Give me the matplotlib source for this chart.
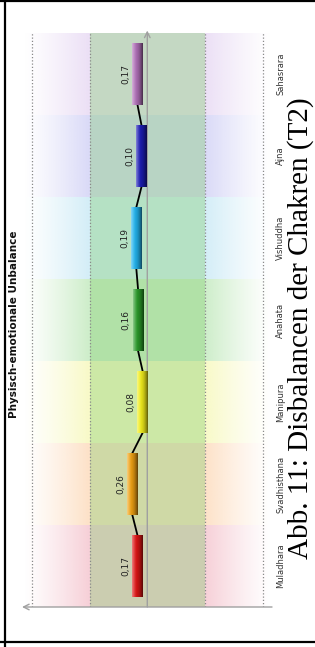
# Chakra imbalance chart (rotated page layout)
import numpy as np
import matplotlib
matplotlib.use("Agg")
import matplotlib.pyplot as plt
from matplotlib.lines import Line2D

# Data
chakras = ["Muladhara", "Svadhisthana", "Manipura", "Anahata", "Vishuddha", "Ajna", "Sahasrara"]
values = [0.17, 0.26, 0.08, 0.16, 0.19, 0.10, 0.17]
value_labels = ["0,17", "0,26", "0,08", "0,16", "0,19", "0,10", "0,17"]
bar_colors = ["#dd1414", "#f0a214", "#f2ee1c", "#2a9a2a", "#22b4ee", "#1c1cb4", "#b070b8"]
band_colors = ["#eea0b0", "#fcc490", "#f2f490", "#9cdc94", "#a8dcf0", "#b4b4f0", "#d8c0ec"]
title = "Physisch-emotionale Unbalance"
caption = "Abb. 11: Disbalancen der Chakren (T2)"

W, H = 315, 647
fig = plt.figure(figsize=(W / 100, H / 100), dpi=100)
fig.patch.set_facecolor("white")

# axes: x = value (positive to the left), y = chakra index
ax = fig.add_axes([22 / W, (H - 607) / H, 250 / W, 574 / H])
xmin, xmax = -2.16, 2.17
ax.set_xlim(xmax, xmin)
ax.set_ylim(0, 7)
ax.axis("off")

# background bands, fading to white at the outer edges
v = np.linspace(xmin, xmax, 400)
alpha = np.clip((2.15 - np.abs(v)) / 1.15, 0, 1) ** 1.2 * 0.5
for i, c in enumerate(band_colors):
    rgb = np.array(matplotlib.colors.to_rgb(c))
    img = np.zeros((1, len(v), 4))
    img[0, :, :3] = rgb
    img[0, :, 3] = alpha
    ax.imshow(img, extent=(xmin, xmax, i, i + 1), aspect="auto", zorder=0, interpolation="bilinear")

# central green band between -1 and 1
ax.axvspan(-1, 1, color="#80cc6c", alpha=0.36, lw=0, zorder=1)

# grid lines
for g in [-2, -1, 1, 2]:
    ax.axvline(g, color="#8a8a8a", lw=0.9, ls=(0, (1, 1.6)), zorder=2)

# zero line and value axis with arrows
ax.annotate("", xy=(0, 7.03), xytext=(0, 0),
            arrowprops=dict(arrowstyle="->", color="#a0a0a0", lw=1, shrinkA=0, shrinkB=0),
            annotation_clip=False, zorder=2)
ax.annotate("", xy=(xmax, 0), xytext=(xmin, 0),
            arrowprops=dict(arrowstyle="->", color="#a0a0a0", lw=1, shrinkA=0, shrinkB=0),
            annotation_clip=False, zorder=2)

# connecting line between bars
for i in range(len(values) - 1):
    ax.plot([values[i], values[i + 1]], [i + 0.875, i + 1.125], color="black", lw=1.3, zorder=3)

# shaded cylinder bars
half = 0.09
t = np.linspace(0, 1, 30)
light = 0.45 * np.clip(1 - t / 0.45, 0, 1) ** 1.5
dark = 1 - 0.6 * t ** 2.5
for i, (val, c) in enumerate(zip(values, bar_colors)):
    rgb = np.array(matplotlib.colors.to_rgb(c))
    cols = rgb[None, :] * (1 - light[:, None]) + light[:, None]
    cols = cols * dark[:, None]
    img = cols[None, :, :]
    ax.imshow(img, extent=(val + half, val - half, i + 0.125, i + 0.875),
              aspect="auto", zorder=4, interpolation="bilinear")
    ax.annotate(value_labels[i], xy=(val + half, i + 0.5), xytext=(-1.5, 0),
                textcoords="offset points", rotation=90, ha="right", va="center",
                fontsize=6.5, color="#222222", zorder=5)

# category labels
for i, name in enumerate(chakras):
    ax.text(1.034, i + 0.5, name, transform=ax.get_yaxis_transform(), rotation=90,
            ha="center", va="center", fontsize=6, color="#333333")

ax.set_xlim(xmax, xmin)
ax.set_ylim(0, 7)

# chart title and caption
fig.text(14 / W, 1 - 324 / H, title, rotation=90, ha="center", va="center",
         fontsize=7.5, fontweight="bold", color="#111111")
fig.text(301 / W, 1 - 328 / H, caption, rotation=90, ha="center", va="center",
         fontsize=21, family="Liberation Serif", color="black")

# frame lines
fig.add_artist(Line2D([5 / W, 5 / W], [0, 1], color="black", lw=1.6, transform=fig.transFigure))
fig.add_artist(Line2D([0, 1], [1 - 1 / H, 1 - 1 / H], color="black", lw=1.6, transform=fig.transFigure))
fig.add_artist(Line2D([0, 1], [1 - 642 / H, 1 - 642 / H], color="black", lw=1.6, transform=fig.transFigure))

fig.savefig("out.png", dpi=100)
